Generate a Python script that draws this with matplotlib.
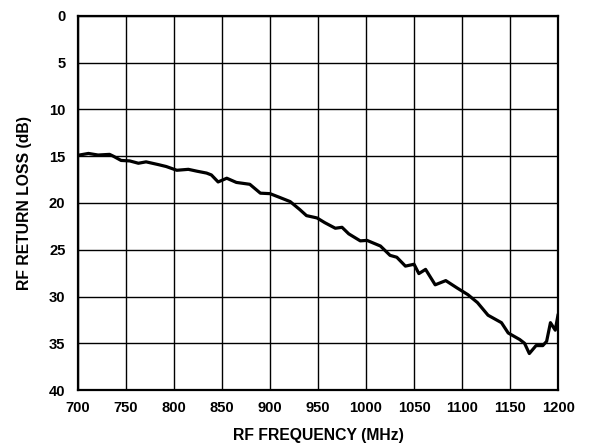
import matplotlib
matplotlib.use("Agg")
import matplotlib.pyplot as plt
import numpy as np

# values
freq_mhz = [700, 711, 721, 733, 737, 745, 754, 763, 771, 784, 792, 803, 815, 824,
            834, 839, 846, 855, 865, 879, 890, 900, 910, 921, 931, 938, 949, 957,
            968, 975, 982, 994, 1001, 1015, 1025, 1032, 1041, 1050, 1055, 1062,
            1072, 1083, 1095, 1106, 1116, 1127, 1141, 1148, 1160, 1165, 1170,
            1177, 1184, 1188, 1192, 1197, 1200]
return_loss_db = [14.9, 14.7, 14.87, 14.8, 15.0, 15.45, 15.5, 15.75, 15.6, 15.9,
                  16.1, 16.5, 16.4, 16.6, 16.8, 17.0, 17.75, 17.35, 17.8, 18.0,
                  18.95, 19.0, 19.4, 19.85, 20.7, 21.35, 21.6, 22.1, 22.7, 22.6,
                  23.3, 24.05, 24.0, 24.6, 25.6, 25.8, 26.75, 26.55, 27.55, 27.1,
                  28.75, 28.3, 29.1, 29.8, 30.65, 32.0, 32.8, 33.9, 34.6, 35.0,
                  36.1, 35.25, 35.25, 34.8, 32.8, 33.6, 31.9]

x_ticks = np.arange(700, 1201, 50)
y_ticks = np.arange(0, 41, 5)

plt.rcParams['font.family'] = ['Liberation Sans', 'DejaVu Sans']
plt.rcParams['font.weight'] = 'bold'

fig = plt.figure(figsize=(5.9, 4.44), dpi=100)
ax = fig.add_axes([0.132, 0.1216, 0.814, 0.8424])

ax.plot(freq_mhz, return_loss_db, color='black', linewidth=2.3,
        solid_joinstyle='round', solid_capstyle='round', zorder=3)

ax.set_xlim(700, 1200)
ax.set_ylim(40, 0)
ax.set_xticks(x_ticks)
ax.set_yticks(y_ticks)
ax.tick_params(length=0, labelsize=10.6, pad=8)
ax.tick_params(axis='y', pad=9)
for lbl in ax.get_xticklabels() + ax.get_yticklabels():
    lbl.set_fontweight('bold')

ax.grid(True, color='black', linewidth=1.0)
for s in ax.spines.values():
    s.set_linewidth(1.6)

ax.set_xlabel('RF FREQUENCY (MHz)', fontsize=11.3, fontweight='bold', labelpad=9)
ax.set_ylabel('RF RETURN LOSS (dB)', fontsize=11.3, fontweight='bold', labelpad=12)

plt.savefig('out.png', dpi=100)
